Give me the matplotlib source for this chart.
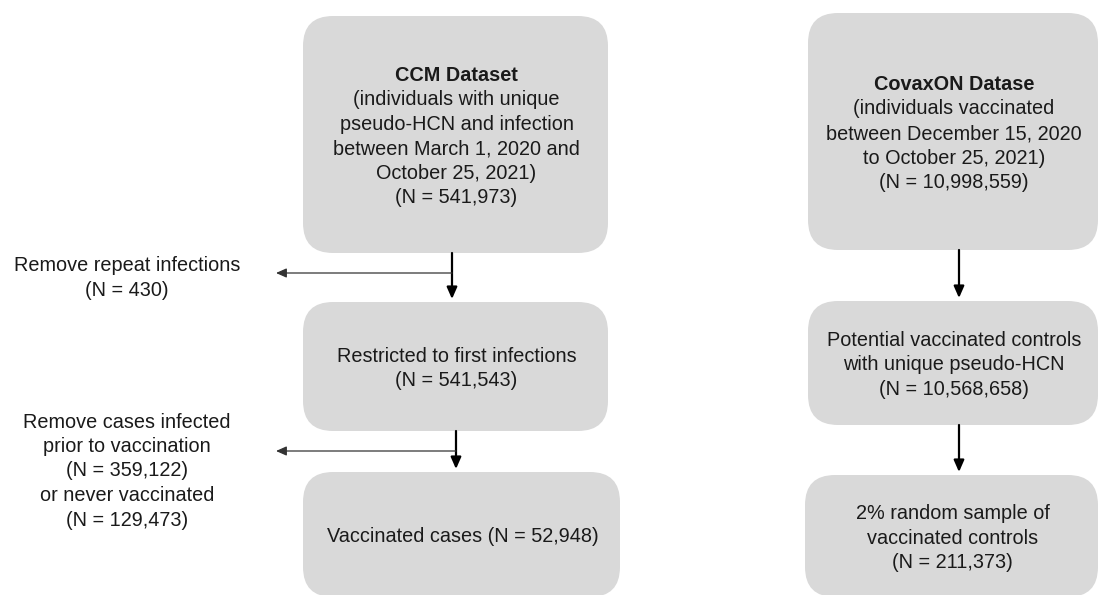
import matplotlib.pyplot as plt
from matplotlib.patches import FancyBboxPatch

plt.rcParams['font.family'] = ['Liberation Sans', 'DejaVu Sans']

# box titles (bold) and body texts
box_titles = ['CCM Dataset', '', '', 'CovaxON Datase', '', '']
box_bodies = [
    ['(individuals with unique', 'pseudo-HCN and infection',
     'between March 1, 2020 and', 'October 25, 2021)'],
    ['Restricted to first infections'],
    ['Vaccinated cases'],
    ['(individuals vaccinated', 'between December 15, 2020',
     'to October 25, 2021)'],
    ['Potential vaccinated controls', 'with unique pseudo-HCN'],
    ['2% random sample of', 'vaccinated controls'],
]
box_n = ['541,973', '541,543', '52,948', '10,998,559', '10,568,658', '211,373']

# exclusions on the left side
excl_texts = [['Remove repeat infections'],
              ['Remove cases infected', 'prior to vaccination',
               '(N = 359,122)', 'or never vaccinated']]
excl_n = ['430', '129,473']

# layout (pixels, y downwards)
box_pos = [  # left, top, right, bottom
    (303, 16, 608, 253),
    (303, 302, 608, 431),
    (303, 472, 620, 597),
    (808, 13, 1098, 250),
    (808, 301, 1098, 425),
    (805, 475, 1098, 597),
]
links = [(0, 1, 452), (1, 2, 456), (3, 4, 959), (4, 5, 959)]
excl_pos = [(273, 127, 276), (451, 127, 276)]  # line y, text x, arrow tip x
excl_text_y = [276, 469]

fig = plt.figure(figsize=(11, 5.95), dpi=100)
ax = fig.add_axes([0, 0, 1, 1])
ax.set_xlim(0, 1100)
ax.set_ylim(595, 0)
ax.axis('off')

FILL = '#d9d9d9'
TXT = '#1a1a1a'
FS = 14.3
STEP = 24.5


def put_lines(x, cy, lines, bold_first=False):
    n = len(lines)
    for j, s in enumerate(lines):
        y = cy + (j - (n - 1) / 2) * STEP
        w = 'bold' if (bold_first and j == 0) else 'normal'
        ax.text(x, y, s, ha='center', va='center_baseline', fontsize=FS,
                color=TXT, fontweight=w)


for i, (l, t, r, b) in enumerate(box_pos):
    ax.add_patch(FancyBboxPatch((l, t), r - l, b - t,
                                boxstyle='round,pad=0,rounding_size=30',
                                fc=FILL, ec='none'))
    cx = (l + r) / 2 + 1
    cy = (t + b) / 2
    if i == 2:
        lines = [box_bodies[i][0] + ' (N = ' + box_n[i] + ')']
    else:
        lines = box_bodies[i] + ['(N = ' + box_n[i] + ')']
    if box_titles[i]:
        put_lines(cx, cy, [box_titles[i]] + lines, bold_first=True)
    else:
        put_lines(cx, cy, lines)

for a, b, x in links:
    top = box_pos[a][3]
    bot = box_pos[b][1]
    ax.annotate('', xy=(x, bot - 3), xytext=(x, top),
                arrowprops=dict(arrowstyle='-|>,head_length=0.5,head_width=0.22',
                                lw=1.6, color='black', shrinkA=0, shrinkB=0,
                                mutation_scale=14))

for k, (ly, tx, tip) in enumerate(excl_pos):
    lx = links[k][2]
    ax.annotate('', xy=(tip, ly), xytext=(lx, ly),
                arrowprops=dict(arrowstyle='-|>,head_length=0.45,head_width=0.2',
                                lw=0.9, color='#333333', shrinkA=0, shrinkB=0,
                                mutation_scale=14))
    put_lines(tx, excl_text_y[k], excl_texts[k] + ['(N = ' + excl_n[k] + ')'])

fig.savefig('out.png', dpi=100)
